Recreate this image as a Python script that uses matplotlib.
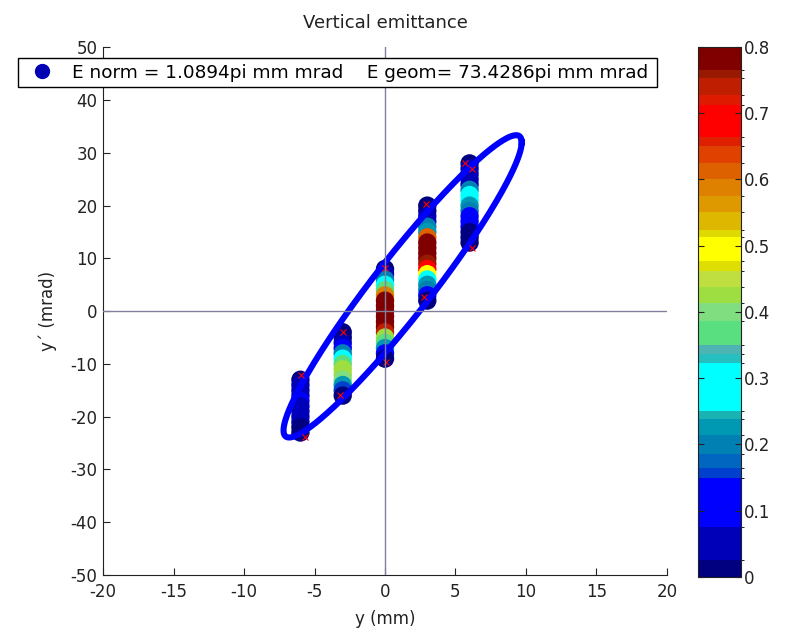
import numpy as np
import matplotlib
matplotlib.use('Agg')
import matplotlib.pyplot as plt
from matplotlib.colors import ListedColormap, BoundaryNorm
from matplotlib.lines import Line2D

plt.rcParams['font.family'] = ['DejaVu Sans']
plt.rcParams['axes.unicode_minus'] = False

# slit positions (mm), y' centres (mrad) and measured intensity per slit
col_x = [-6, -3, 0, 3, 6]
col_yp = [
    list(range(-13, -24, -1)),
    list(range(-4, -17, -1)),
    list(range(8, -10, -1)),
    list(range(20, 1, -1)),
    list(range(28, 12, -1)),
]
col_val = [
    [0.01, 0.05, 0.05, 0.05, 0.11, 0.05, 0.05, 0.05, 0.05, 0.01, 0.01],
    [0.01, 0.01, 0.05, 0.11, 0.2, 0.29, 0.37, 0.425, 0.425, 0.40, 0.226, 0.157, 0.01],
    [0.01, 0.05, 0.2, 0.29, 0.37, 0.588, 0.78, 0.78, 0.78, 0.78, 0.78, 0.78, 0.74,
     0.425, 0.37, 0.226, 0.11, 0.01],
    [0.01, 0.01, 0.05, 0.05, 0.2, 0.226, 0.612, 0.78, 0.78, 0.78, 0.78, 0.76, 0.69,
     0.495, 0.29, 0.226, 0.2, 0.11, 0.01],
    [0.01, 0.05, 0.05, 0.05, 0.05, 0.2, 0.29, 0.29, 0.226, 0.2, 0.11, 0.11, 0.11,
     0.01, 0.01, 0.01],
]

# threshold marks (red x)
mark_x = [-5.96, -5.7, -3.0, -3.2, 0.0, 0.1, 2.9, 2.8, 5.7, 6.2, 6.2]
mark_y = [-12.1, -23.9, -3.9, -15.9, 8.1, -9.6, 20.3, 2.7, 28.1, 27.0, 11.9]

# fitted ellipse (twiss)
ell_xc, ell_yc = 1.25, 4.7
ell_alpha, ell_beta, ell_eps = -3.14, 0.972, 73.4286
legend_label = 'E norm = 1.0894pi mm mrad    E geom= 73.4286pi mm mrad'

# colour levels of the colourbar
lev_bounds = [0.0, 0.026, 0.075, 0.150, 0.164, 0.186, 0.214, 0.238, 0.250, 0.323,
              0.337, 0.350, 0.386, 0.413, 0.437, 0.462, 0.477, 0.513, 0.524, 0.550,
              0.575, 0.600, 0.625, 0.650, 0.664, 0.712, 0.727, 0.753, 0.765, 0.800]
lev_colors = [(0.0, 0.0, 0.5), (0.0, 0.0, 0.72), (0.0, 0.0, 1.0), (0.0, 0.25, 0.8),
              (0.0, 0.4, 0.75), (0.0, 0.5, 0.7), (0.0, 0.6, 0.7), (0.1, 0.7, 0.7),
              (0.0, 1.0, 1.0), (0.15, 0.75, 0.75), (0.3, 0.7, 0.7), (0.35, 0.87, 0.5),
              (0.5, 0.87, 0.5), (0.62, 0.87, 0.25), (0.75, 0.87, 0.25), (0.87, 0.87, 0.0),
              (1.0, 1.0, 0.0), (0.87, 0.85, 0.0), (0.87, 0.72, 0.0), (0.87, 0.6, 0.0),
              (0.87, 0.5, 0.0), (0.87, 0.38, 0.0), (0.88, 0.25, 0.0), (0.87, 0.12, 0.0),
              (1.0, 0.0, 0.0), (0.87, 0.1, 0.0), (0.75, 0.12, 0.0), (0.6, 0.1, 0.0),
              (0.5, 0.0, 0.0)]

cmap = ListedColormap(lev_colors)
norm = BoundaryNorm(lev_bounds, cmap.N)

fig = plt.figure(figsize=(7.93, 6.35), dpi=100)
ax = fig.add_axes([0.130, 0.0945, 0.711, 0.831])
cax = fig.add_axes([0.880, 0.0913, 0.054, 0.835])

for x0, ys, vs in zip(col_x, col_yp, col_val):
    # plotted top to bottom so the lower point lies on top
    for yy, vv in zip(ys, vs):
        sc = ax.scatter([x0], [yy], c=[vv], cmap=cmap, norm=norm, s=175,
                        edgecolors='none', zorder=2)

t = np.linspace(0, 2 * np.pi, 400)
ex = ell_xc + np.sqrt(ell_eps * ell_beta) * np.cos(t)
ey = ell_yc - np.sqrt(ell_eps / ell_beta) * (ell_alpha * np.cos(t) + np.sin(t))
ax.plot(ex, ey, color=(0, 0, 1), lw=4.4, zorder=3)

ax.plot(mark_x, mark_y, 'x', color='red', ms=4, mew=0.8, zorder=4)

ax.axhline(0, color=(0.5, 0.5, 0.62), lw=1, zorder=5)
ax.axvline(0, color=(0.5, 0.5, 0.62), lw=1, zorder=5)

ax.set_xlim(-20, 20)
ax.set_ylim(-50, 50)
ax.set_xticks(np.arange(-20, 21, 5))
ax.set_yticks(np.arange(-50, 51, 10))
for s in ['top', 'right']:
    ax.spines[s].set_visible(False)
for s in ['left', 'bottom']:
    ax.spines[s].set_color('#222222')
ax.tick_params(direction='in', length=5, labelsize=12, colors='#222222')
ax.tick_params(axis='x', pad=6)
ax.tick_params(axis='y', pad=4)
ax.set_xlabel('y (mm)', fontsize=12, color='#222222', labelpad=6)
ax.set_ylabel('y\u00b4 (mrad)', fontsize=12, color='#222222', labelpad=10)
ax.set_title('Vertical emittance', fontsize=13, color='#222222', pad=14)

h = Line2D([], [], marker='o', ls='none', color=(0, 0, 0.7), ms=10)
leg = fig.legend([h], [legend_label], loc='center left',
                 bbox_to_anchor=(0.0227, 0.861, 0.806, 0.049), mode='expand',
                 borderaxespad=0, fancybox=False, framealpha=1, edgecolor='black',
                 fontsize=13.3, handlelength=2.0, handletextpad=0.6, borderpad=0.3)
leg.get_frame().set_linewidth(1.0)

cb = fig.colorbar(sc, cax=cax, ticks=np.arange(0, 0.81, 0.1), spacing='proportional')
cb.ax.set_yticklabels(['0', '0.1', '0.2', '0.3', '0.4', '0.5', '0.6', '0.7', '0.8'])
cb.ax.tick_params(direction='in', length=4, left=True, right=True, labelsize=12,
                  colors='#222222', pad=2)
cb.outline.set_edgecolor('#222222')

fig.savefig('out.png', dpi=100)
